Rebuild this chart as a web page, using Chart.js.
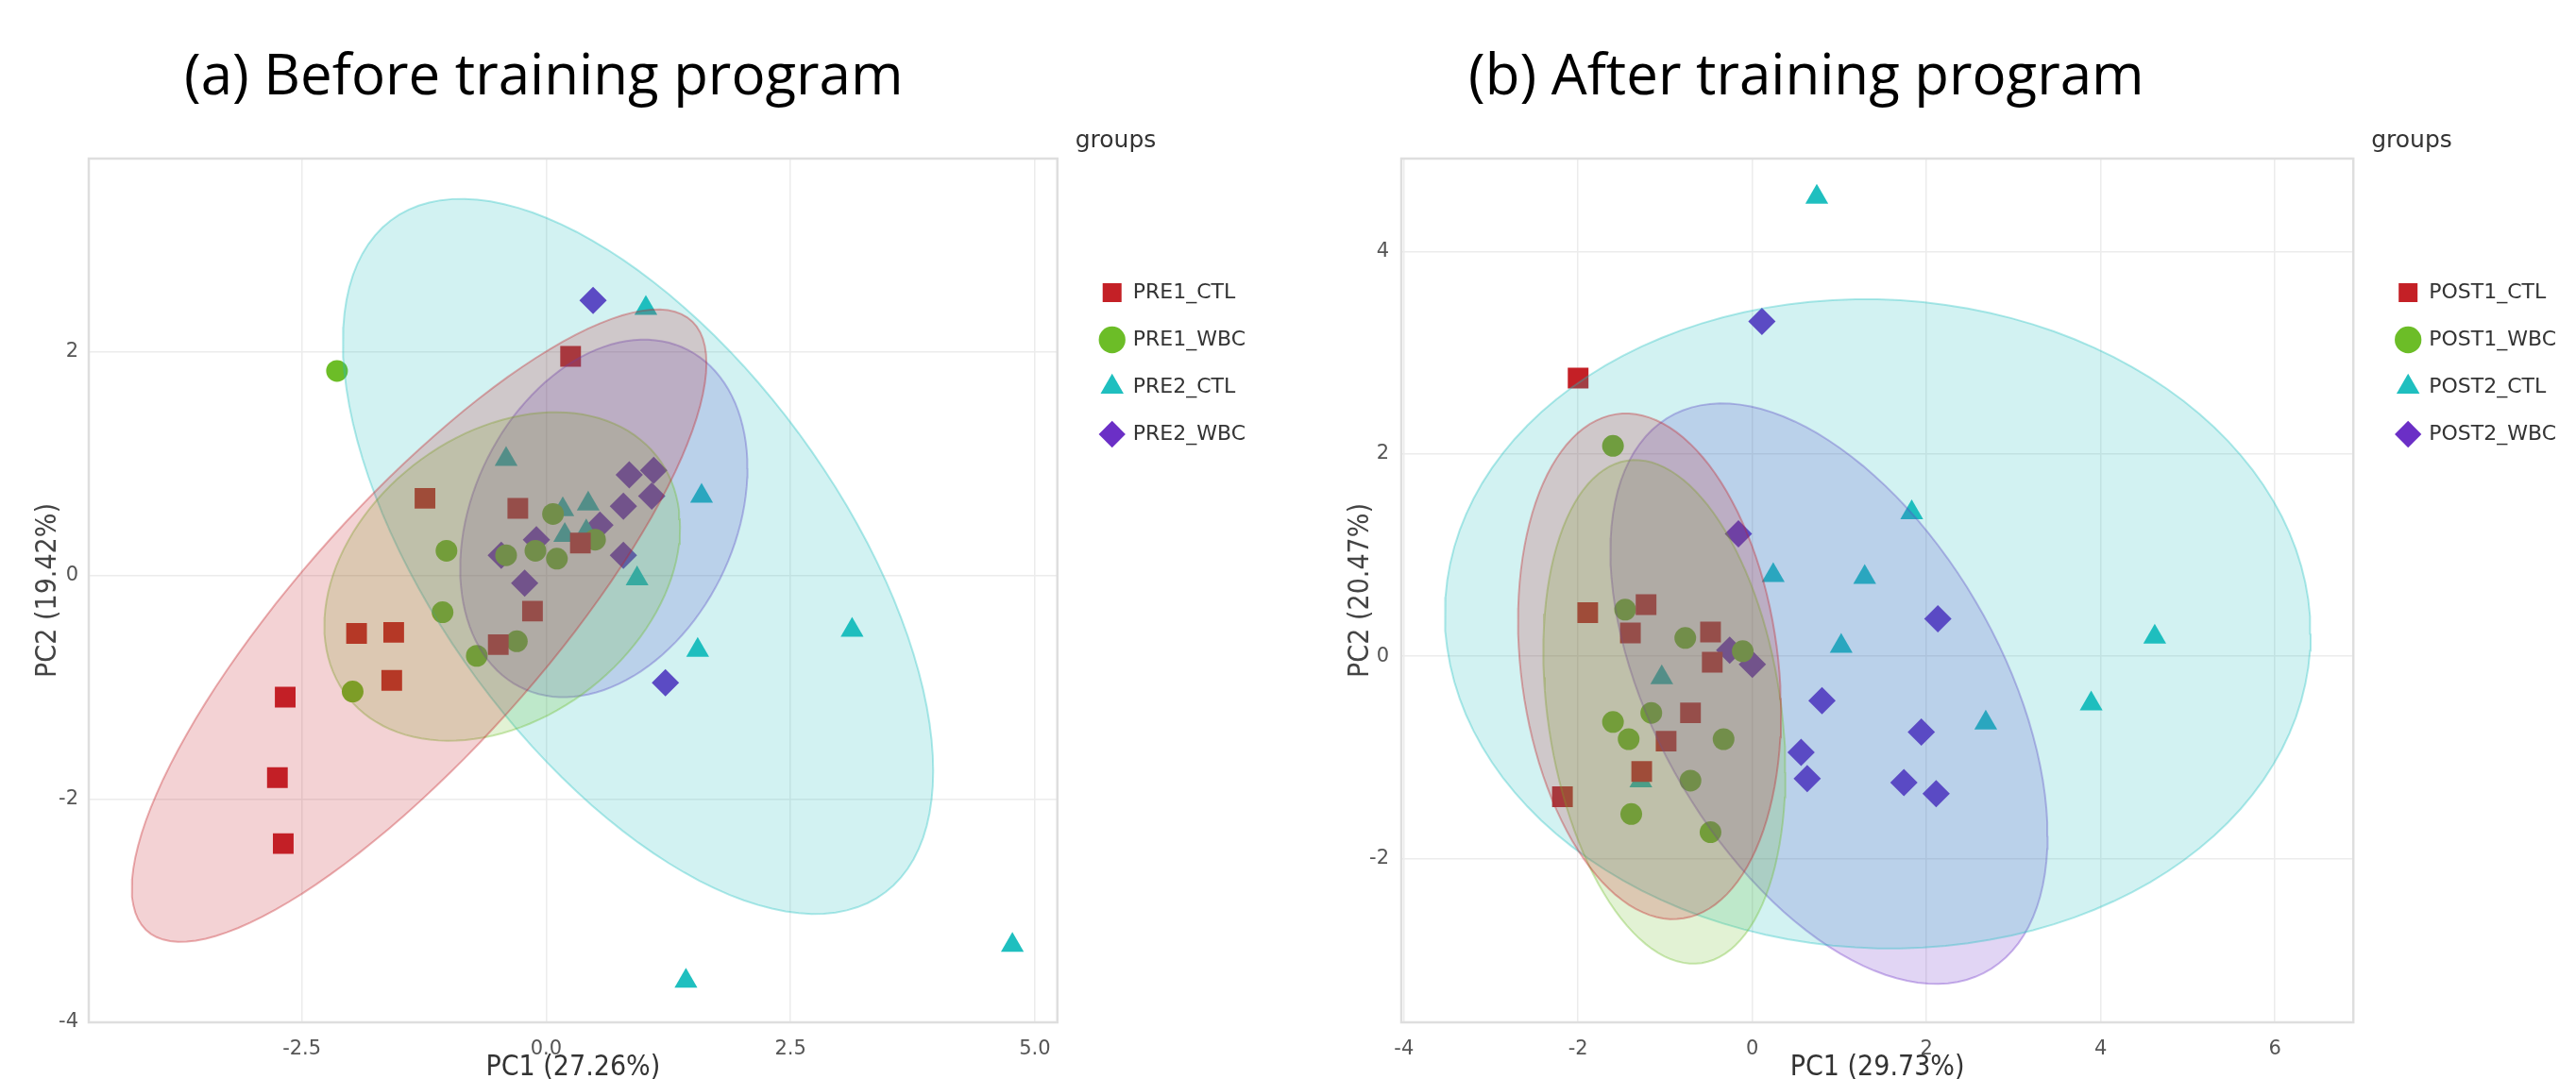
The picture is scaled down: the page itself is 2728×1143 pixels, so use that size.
<!DOCTYPE html>
<html>
<head>
<meta charset="utf-8">
<script src="https://cdn.jsdelivr.net/npm/chart.js@4.4.1/dist/chart.umd.min.js"></script>
<style>
  html, body { margin: 0; padding: 0; background: #fff; }
  body { width: 2728px; height: 1143px; position: relative; overflow: hidden; }
  .panel { position: absolute; top: 0; width: 1364px; height: 1143px; }
  .title { position: absolute; top: 47px; font-family: 'Open Sans'; font-size: 60px; line-height: 1; color: #000; white-space: nowrap; }
</style>
</head>
<body>
<div class="panel" style="left:0"><canvas id="chartPre" width="1364" height="1143"></canvas></div>
<div class="panel" style="left:1364px"><canvas id="chartPost" width="1364" height="1143"></canvas></div>
<div class="title" style="left:195px">(a) Before training program</div>
<div class="title" style="left:1555px">(b) After training program</div>
<script>
// colours / shapes per group (CTL1, WBC1, CTL2, WBC2)
const groupColors = ['#c42026', '#6cbd27', '#1fbfbf', '#6b2fc6'];
const groupShapes = ['rect', 'circle', 'triangle', 'rectRot'];
const pointSizes = [15.5, 11.5, 14, 14.5];

// (a) before training
const preLabels = ['PRE1_CTL', 'PRE1_WBC', 'PRE2_CTL', 'PRE2_WBC'];
const pre1Ctl = [[0.25,1.96],[-1.24,0.69],[-0.29,0.60],[0.35,0.29],[-0.14,-0.32],[-0.49,-0.62],[-1.94,-0.52],[-1.56,-0.51],[-1.58,-0.94],[-2.67,-1.09],[-2.75,-1.81],[-2.69,-2.40]];
const pre1Wbc = [[-2.14,1.83],[-1.02,0.22],[0.07,0.55],[-0.41,0.18],[-0.11,0.22],[0.11,0.15],[0.50,0.32],[-1.06,-0.33],[-0.30,-0.59],[-0.71,-0.72],[-1.98,-1.04]];
const pre2Ctl = [[1.02,2.39],[-0.41,1.04],[0.17,0.59],[0.43,0.64],[0.19,0.36],[0.41,0.39],[0.93,-0.03],[1.59,0.71],[3.13,-0.49],[1.55,-0.67],[4.77,-3.31],[1.43,-3.63]];
const pre2Wbc = [[0.48,2.46],[0.85,0.90],[1.10,0.94],[1.08,0.71],[0.79,0.62],[0.55,0.45],[-0.10,0.32],[-0.46,0.18],[0.79,0.18],[-0.22,-0.07],[1.22,-0.96]];
// confidence ellipses: centre, half width, half height, y-offset of rightmost point (as fraction of half height)
const preEllCx = [-1.30, -0.45, 0.94, 0.59];
const preEllCy = [-0.45, -0.01, 0.17, 0.51];
const preEllRx = [2.94, 1.82, 3.02, 1.47];
const preEllRy = [2.83, 1.47, 3.20, 1.60];
const preEllTilt = [0.83, 0.30, -0.60, 0.28];
const preXTicks = [-4.68, 5.23, 2.5];
const preYTicks = [-4.0, 3.73, 2];

// (b) after training
const postLabels = ['POST1_CTL', 'POST1_WBC', 'POST2_CTL', 'POST2_WBC'];
const post1Ctl = [[-2.00,2.75],[-1.89,0.43],[-1.22,0.51],[-1.40,0.23],[-0.48,0.24],[-0.46,-0.06],[-0.71,-0.56],[-0.99,-0.84],[-1.27,-1.14],[-2.18,-1.39]];
const post1Wbc = [[-1.60,2.08],[-1.46,0.46],[-0.77,0.18],[-0.11,0.05],[-1.16,-0.56],[-1.60,-0.65],[-1.42,-0.82],[-0.33,-0.82],[-0.71,-1.23],[-1.39,-1.56],[-0.48,-1.74]];
const post2Ctl = [[0.74,4.54],[1.83,1.42],[0.24,0.80],[1.29,0.78],[1.02,0.10],[-1.04,-0.21],[-1.28,-1.23],[2.68,-0.66],[3.89,-0.47],[4.62,0.19]];
const post2Wbc = [[0.11,3.31],[-0.16,1.21],[-0.26,0.06],[0.00,-0.08],[0.80,-0.44],[0.56,-0.95],[0.63,-1.21],[2.13,0.37],[1.94,-0.75],[1.74,-1.25],[2.11,-1.36]];
const postEllCx = [-1.18, -1.01, 1.44, 0.88];
const postEllCy = [-0.10, -0.55, 0.32, -0.37];
const postEllRx = [1.51, 1.39, 4.97, 2.51];
const postEllRy = [2.50, 2.49, 3.21, 2.87];
const postEllTilt = [-0.18, -0.24, -0.03, -0.49];
const postXTicks = [-4.03, 6.9, 2];
const postYTicks = [-3.62, 4.92, 2];

function rgba(hex, a) {
  const n = parseInt(hex.slice(1), 16);
  return `rgba(${(n >> 16) & 255},${(n >> 8) & 255},${n & 255},${a})`;
}

function ellipsePath(cx, cy, rx, ry, tilt) {
  const phi = Math.acos(tilt);
  const pts = [];
  for (let i = 0; i <= 120; i++) {
    const t = i / 120 * 2 * Math.PI;
    pts.push({x: cx + rx * Math.cos(t), y: cy + ry * Math.cos(t - phi)});
  }
  return pts;
}

function buildDatasets(labels, groups, cx, cy, rx, ry, tilt) {
  const sets = [];
  groups.forEach((g, i) => {
    sets.push({
      type: 'scatter',
      label: labels[i],
      data: g.map(p => ({x: p[0], y: p[1]})),
      pointStyle: groupShapes[i],
      pointRadius: pointSizes[i],
      backgroundColor: groupColors[i],
      borderColor: groupColors[i],
      borderWidth: 0,
      order: 2
    });
  });
  groups.forEach((g, i) => {
    sets.push({
      type: 'line',
      label: labels[i] + ' ellipse',
      data: ellipsePath(cx[i], cy[i], rx[i], ry[i], tilt[i]),
      borderColor: rgba(groupColors[i], 0.35),
      borderWidth: 2,
      backgroundColor: rgba(groupColors[i], 0.2),
      fill: 'shape',
      pointRadius: 0,
      tension: 0,
      order: 1
    });
  });
  return sets;
}

const plotFrame = {
  id: 'plotFrame',
  beforeDatasetsDraw(chart) {
    const {ctx, chartArea: a} = chart;
    ctx.save();
    ctx.strokeStyle = '#dedede';
    ctx.lineWidth = 2.5;
    ctx.strokeRect(a.left, a.top, a.right - a.left, a.bottom - a.top);
    ctx.restore();
  }
};

const tickFont = {family: 'DejaVu Sans', size: 21};
const axisTitleFont = {family: 'DejaVu Sans Condensed', size: 30};

function makeChart(id, datasets, cfg) {
  return new Chart(id, {
    type: 'scatter',
    data: {datasets: datasets},
    plugins: [plotFrame],
    options: {
      responsive: false,
      animation: false,
      devicePixelRatio: 1,
      layout: {padding: {left: 0, top: 0, bottom: 0, right: cfg.padRight}},
      plugins: {
        tooltip: {enabled: false},
        title: {display: true, text: '', font: {size: 10, lineHeight: '168px'}, padding: 0},
        legend: {
          position: 'right',
          align: 'start',
          title: {display: true, text: 'groups', color: '#333', position: 'start',
                  font: {family: 'DejaVu Sans', size: 25}, padding: {top: 137, bottom: 104}},
          labels: {
            usePointStyle: true,
            boxWidth: 22,
            boxHeight: 20,
            padding: 28,
            color: '#333',
            font: {family: 'DejaVu Sans', size: 22},
            filter: (item, data) => data.datasets[item.datasetIndex].type === 'scatter'
          }
        }
      },
      scales: {
        x: {
          type: 'linear',
          min: cfg.xTicks[0], max: cfg.xTicks[1],
          ticks: {stepSize: cfg.xTicks[2], includeBounds: false, padding: 16, font: tickFont, color: '#555',
                  callback: v => cfg.xFixed ? v.toFixed(1) : String(v)},
          grid: {color: '#ececec', lineWidth: 1.5, drawTicks: false},
          border: {display: false},
          title: {display: true, text: cfg.xTitle, color: '#333', font: Object.assign({lineHeight: 0.8}, axisTitleFont), padding: 0},
          afterFit: s => { s.height = 60; }
        },
        y: {
          type: 'linear',
          min: cfg.yTicks[0], max: cfg.yTicks[1],
          ticks: {stepSize: cfg.yTicks[2], includeBounds: false, padding: cfg.yTickPad, font: tickFont, color: '#555',
                  callback: v => String(v)},
          grid: {color: '#ececec', lineWidth: 1.5, drawTicks: false},
          border: {display: false},
          title: {display: true, text: cfg.yTitle, color: '#444', font: Object.assign({lineHeight: 1.2}, axisTitleFont), padding: {top: cfg.yTitlePad, bottom: 0}},
          afterFit: s => { s.width = cfg.yWidth; }
        },
        gap: {
          type: 'linear',
          position: 'right',
          display: true,
          grid: {display: false},
          ticks: {display: false},
          border: {display: false},
          afterFit: s => { s.width = cfg.gap; }
        }
      }
    }
  });
}

makeChart('chartPre',
  buildDatasets(preLabels, [pre1Ctl, pre1Wbc, pre2Ctl, pre2Wbc], preEllCx, preEllCy, preEllRx, preEllRy, preEllTilt),
  {xTicks: preXTicks, yTicks: preYTicks, xFixed: true, xTitle: 'PC1 (27.26%)', yTitle: 'PC2 (19.42%)',
   yWidth: 94, yTickPad: 11, yTitlePad: 33, gap: 19, padRight: 35});

makeChart('chartPost',
  buildDatasets(postLabels, [post1Ctl, post1Wbc, post2Ctl, post2Wbc], postEllCx, postEllCy, postEllRx, postEllRy, postEllTilt),
  {xTicks: postXTicks, yTicks: postYTicks, xFixed: false, xTitle: 'PC1 (29.73%)', yTitle: 'PC2 (20.47%)',
   yWidth: 120, yTickPad: 13, yTitlePad: 59, gap: 19, padRight: 11});
</script>
</body>
</html>
